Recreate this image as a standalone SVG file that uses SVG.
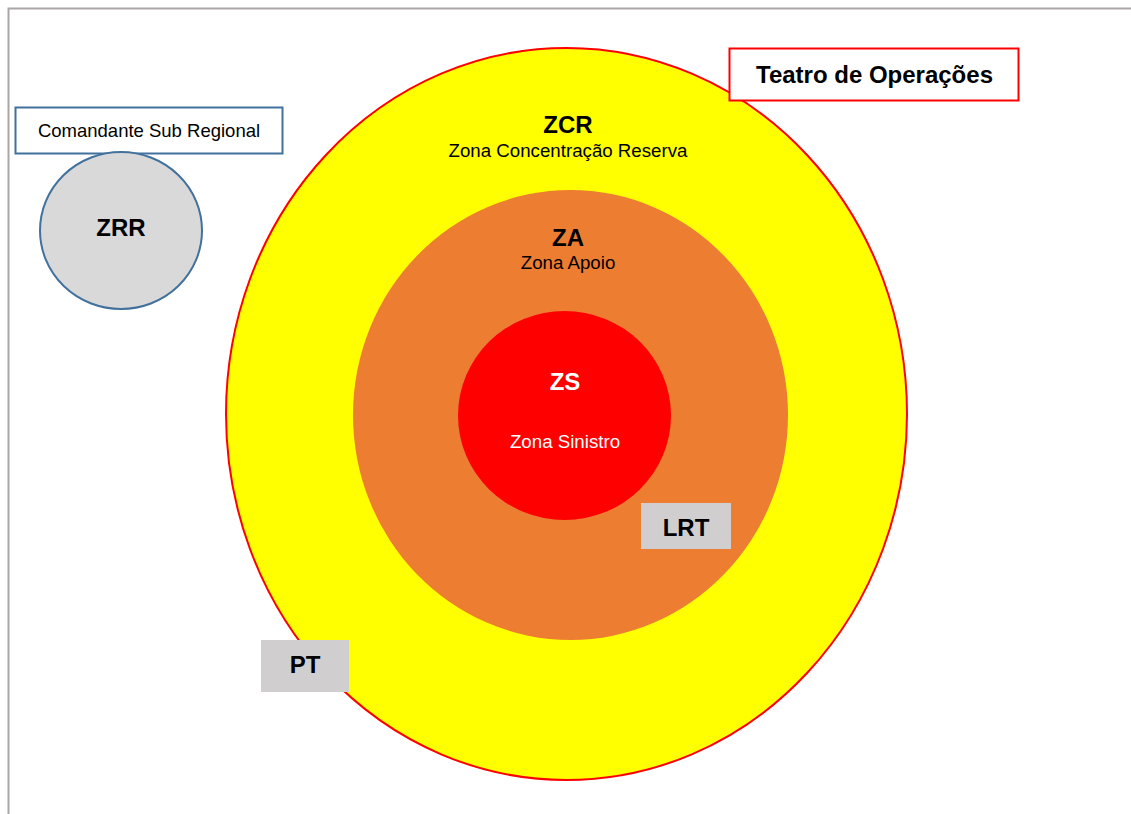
<svg xmlns="http://www.w3.org/2000/svg" width="1131" height="814" viewBox="0 0 1131 814">
<style>
.b{font-family:"Liberation Sans",Arial,sans-serif;font-weight:bold;font-size:24px;text-anchor:middle;fill:#000}
.n{font-family:"Liberation Sans",Arial,sans-serif;font-size:18.7px;text-anchor:middle;fill:#000}
.w{fill:#fff}
.tag{fill:#d0cece}
</style>
<rect x="0" y="0" width="1131" height="814" fill="#fff"/>
<path d="M8.5 814 V8.5 H1131" fill="none" stroke="#aaa6a6" stroke-width="2"/>
<g id="zcr">
<ellipse cx="566.5" cy="414" rx="340.5" ry="366" fill="#ffff00" stroke="#ff0000" stroke-width="2"/>
<text class="b" x="568" y="133">ZCR</text>
<text class="n" x="568" y="157">Zona Concentração Reserva</text>
</g>
<g id="za">
<ellipse cx="570.5" cy="415" rx="217.5" ry="225" fill="#ed7d31"/>
<text class="b" x="568" y="245.5">ZA</text>
<text class="n" x="568" y="268.5">Zona Apoio</text>
</g>
<g id="zs">
<ellipse cx="564.5" cy="415.5" rx="106.5" ry="104.5" fill="#ff0000"/>
<text class="b w" x="565" y="389.5" style="fill:#fff">ZS</text>
<text class="n w" x="565" y="447.5" style="fill:#fff">Zona Sinistro</text>
</g>
<g id="lrt">
<rect class="tag" x="641" y="503" width="90" height="46"/>
<text class="b" x="686" y="535.5">LRT</text>
</g>
<g id="pt">
<rect class="tag" x="261" y="640" width="88" height="52"/>
<text class="b" x="305" y="672.5">PT</text>
</g>
<g id="teatro">
<rect x="729.5" y="48.5" width="289" height="52" fill="#fff" stroke="#ff0000" stroke-width="2"/>
<text class="b" x="874.5" y="82.5">Teatro de Operações</text>
</g>
<g id="comandante">
<rect x="15.5" y="107.5" width="267" height="46" fill="#fff" stroke="#41719c" stroke-width="2"/>
<text class="n" x="149" y="136.5" style="font-size:18.5px">Comandante Sub Regional</text>
</g>
<g id="zrr">
<ellipse cx="121" cy="230.5" rx="81" ry="78.5" fill="#d9d9d9" stroke="#41719c" stroke-width="2"/>
<text class="b" x="121" y="236">ZRR</text>
</g>
<g id="connectors"></g>
</svg>
